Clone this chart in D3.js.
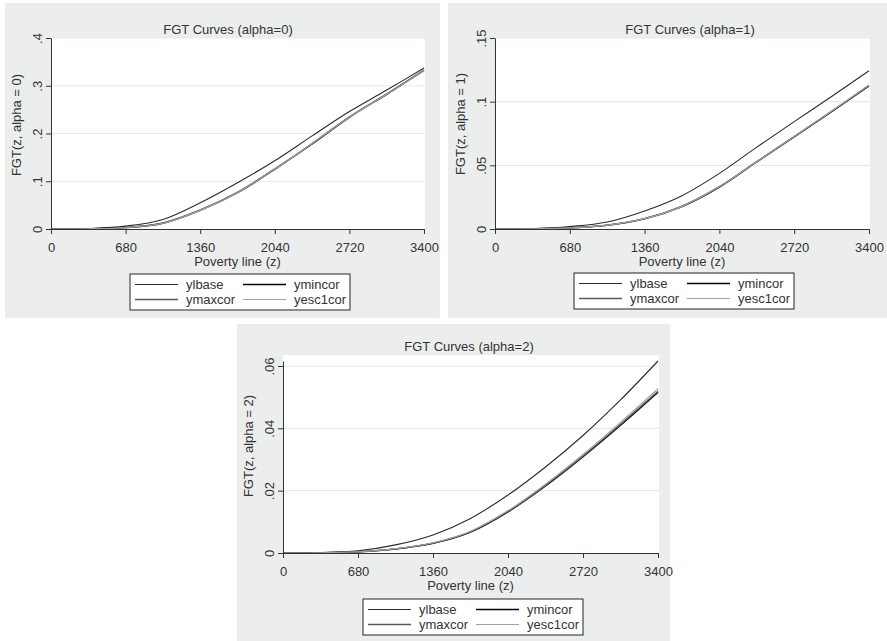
<!DOCTYPE html>
<html>
<head>
<meta charset="utf-8">
<script src="https://cdn.jsdelivr.net/npm/d3@7"></script>
<style>
  body { margin: 0; background: #fff; }
  svg { display: block; font-family: "Liberation Sans", Arial, sans-serif; }
</style>
</head>
<body>
<script>
const povertyLines = [0, 340, 680, 1020, 1360, 1700, 2040, 2380, 2720, 3060, 3400];
const xTicks = [0, 680, 1360, 2040, 2720, 3400];
const seriesNames = ["ylbase", "ymincor", "ymaxcor", "yesc1cor"];

// alpha = 0
const ylbase0   = [0, 0.001, 0.006, 0.020, 0.055, 0.097, 0.143, 0.195, 0.246, 0.291, 0.337];
const ymincor0  = [0, 0.0004, 0.003, 0.012, 0.039, 0.076, 0.125, 0.178, 0.234, 0.282, 0.332];
const ymaxcor0  = [0, 0.0005, 0.003, 0.013, 0.040, 0.077, 0.126, 0.179, 0.235, 0.283, 0.333];
const yesc1cor0 = [0, 0.0004, 0.003, 0.012, 0.039, 0.076, 0.125, 0.179, 0.234, 0.282, 0.332];
const yTicks0 = [0, 0.1, 0.2, 0.3, 0.4];

// alpha = 1
const ylbase1   = [0, 0.0002, 0.0019, 0.0055, 0.0142, 0.0262, 0.0437, 0.0643, 0.0843, 0.1040, 0.1243];
const ymincor1  = [0, 0.0001, 0.0009, 0.0030, 0.0080, 0.0177, 0.0330, 0.0527, 0.0723, 0.0922, 0.1124];
const ymaxcor1  = [0, 0.0001, 0.0009, 0.0031, 0.0082, 0.0179, 0.0333, 0.0530, 0.0726, 0.0925, 0.1128];
const yesc1cor1 = [0, 0.0001, 0.0009, 0.0031, 0.0081, 0.0178, 0.0333, 0.0529, 0.0726, 0.0926, 0.1130];
const yTicks1 = [0, 0.05, 0.1, 0.15];

// alpha = 2
const ylbase2   = [0, 0.0001, 0.0007, 0.0026, 0.0058, 0.0111, 0.0186, 0.0276, 0.0377, 0.0491, 0.0616];
const ymincor2  = [0, 0.00005, 0.0004, 0.0013, 0.0031, 0.0067, 0.0132, 0.0215, 0.0309, 0.0410, 0.0516];
const ymaxcor2  = [0, 0.00005, 0.0004, 0.0013, 0.0032, 0.0068, 0.0133, 0.0217, 0.0311, 0.0413, 0.0519];
const yesc1cor2 = [0, 0.00005, 0.0004, 0.0014, 0.0033, 0.0070, 0.0136, 0.0221, 0.0316, 0.0419, 0.0527];
const yTicks2 = [0, 0.02, 0.04, 0.06];

const titles = ["FGT Curves (alpha=0)", "FGT Curves (alpha=1)", "FGT Curves (alpha=2)"];
const yTitles = ["FGT(z, alpha = 0)", "FGT(z, alpha = 1)", "FGT(z, alpha = 2)"];
const xTitle = "Poverty line (z)";

const lineStyles = {
  ylbase:   { stroke: "#2a2a2a", width: 1.1 },
  ymincor:  { stroke: "#000000", width: 1.5 },
  ymaxcor:  { stroke: "#5a5a5a", width: 1.3 },
  yesc1cor: { stroke: "#a2a2a2", width: 1.2 }
};

const W = 887, H = 641;
const FONT = 13;
const TEXT = "#333";
const BG = "#eceeed";

const panels = [
  { series: [ylbase0, ymincor0, ymaxcor0, yesc1cor0], yTicks: yTicks0, yMax: 0.4,
    bg: [5, 3, 435, 315], x0: 51, x1: 424, yTop: 38, yBot: 229, whiteTop: 38, whiteRight: 425,
    titleX: 228, yTitleY: 125, legX: 130, legY: 274 },
  { series: [ylbase1, ymincor1, ymaxcor1, yesc1cor1], yTicks: yTicks1, yMax: 0.15,
    bg: [448, 3, 439, 315], x0: 495, x1: 869, yTop: 38, yBot: 229, whiteTop: 38, whiteRight: 870,
    titleX: 690, yTitleY: 124, legX: 574, legY: 273 },
  { series: [ylbase2, ymincor2, ymaxcor2, yesc1cor2], yTicks: yTicks2, yMax: 0.0616,
    bg: [237, 324, 433, 317], x0: 283, x1: 658, yTop: 361, yBot: 553, whiteTop: 355, whiteRight: 659,
    titleX: 469, yTitleY: 446, legX: 363, legY: 599 }
];

const fmtY = v => v === 0 ? "0" : String(v).replace(/^0/, "");

const svg = d3.select("body").append("svg")
  .attr("width", W)
  .attr("height", H);

panels.forEach((p, i) => {
  const g = svg.append("g");

  // grey graph region
  g.append("rect")
    .attr("x", p.bg[0]).attr("y", p.bg[1])
    .attr("width", p.bg[2]).attr("height", p.bg[3])
    .attr("fill", BG);

  // white plot region
  g.append("rect")
    .attr("x", p.x0).attr("y", p.whiteTop)
    .attr("width", p.whiteRight - p.x0).attr("height", p.yBot - p.whiteTop)
    .attr("fill", "#fff");

  const x = d3.scaleLinear().domain([0, 3400]).range([p.x0, p.x1]);
  const y = d3.scaleLinear().domain([0, p.yMax]).range([p.yBot, p.yTop]);

  // grid lines
  g.append("g").selectAll("line")
    .data(p.yTicks.filter(t => t > 0))
    .join("line")
    .attr("x1", p.x0).attr("x2", p.whiteRight)
    .attr("y1", d => y(d)).attr("y2", d => y(d))
    .attr("stroke", "#e9e9e9")
    .attr("stroke-width", 1.2);

  // curves
  const line = d3.line()
    .x((d, j) => x(povertyLines[j]))
    .y(d => y(Math.max(0, d)))
    .curve(d3.curveCatmullRom.alpha(0.5));

  p.series.forEach((vals, k) => {
    const st = lineStyles[seriesNames[k]];
    g.append("path")
      .datum(vals)
      .attr("fill", "none")
      .attr("stroke", st.stroke)
      .attr("stroke-width", st.width)
      .attr("d", line);
  });

  // x axis
  const xAxis = g.append("g")
    .attr("transform", `translate(0, ${p.yBot})`)
    .call(d3.axisBottom(x).tickValues(xTicks).tickFormat(d3.format("d"))
      .tickSize(5).tickSizeOuter(0).tickPadding(9));
  xAxis.select(".domain").attr("stroke", "#333");
  xAxis.selectAll(".tick line").attr("stroke", "#333");
  xAxis.selectAll("text")
    .attr("fill", TEXT)
    .style("font-size", FONT + "px")
    .style("font-family", "'Liberation Sans', Arial, sans-serif");

  // y axis with rotated labels
  const yAxis = g.append("g")
    .attr("transform", `translate(${p.x0}, 0)`)
    .call(d3.axisLeft(y).tickValues(p.yTicks).tickFormat(fmtY).tickSize(5).tickSizeOuter(0));
  yAxis.select(".domain").attr("stroke", "#333");
  yAxis.selectAll(".tick line").attr("stroke", "#333");
  yAxis.selectAll("text")
    .attr("x", 0)
    .attr("y", -9)
    .attr("dy", null)
    .attr("text-anchor", "middle")
    .attr("transform", "rotate(-90)")
    .attr("fill", TEXT)
    .style("font-size", FONT + "px")
    .style("font-family", "'Liberation Sans', Arial, sans-serif");

  // titles
  g.append("text")
    .attr("x", p.titleX).attr("y", p.whiteTop - 4)
    .attr("text-anchor", "middle")
    .attr("fill", TEXT)
    .style("font-size", FONT + "px")
    .text(titles[i]);

  g.append("text")
    .attr("x", (p.x0 + p.x1) / 2).attr("y", p.yBot + 37)
    .attr("text-anchor", "middle")
    .attr("fill", TEXT)
    .style("font-size", FONT + "px")
    .text(xTitle);

  g.append("text")
    .attr("transform", `translate(${p.x0 - 30}, ${p.yTitleY}) rotate(-90)`)
    .attr("text-anchor", "middle")
    .attr("fill", TEXT)
    .style("font-size", FONT + "px")
    .text(yTitles[i]);

  // legend
  const leg = g.append("g").attr("transform", `translate(${p.legX}, ${p.legY})`);
  leg.append("rect")
    .attr("width", 220).attr("height", 36)
    .attr("fill", "#fff")
    .attr("stroke", "#222");

  const items = leg.selectAll("g.item")
    .data(seriesNames)
    .join("g")
    .attr("class", "item")
    .attr("transform", (d, k) => `translate(${k % 2 === 0 ? 5 : 113}, ${k < 2 ? 10.5 : 25.5})`);
  items.append("line")
    .attr("x1", 0).attr("x2", 43)
    .attr("stroke", d => lineStyles[d].stroke)
    .attr("stroke-width", d => lineStyles[d].width);
  items.append("text")
    .attr("x", 51).attr("y", 4.5)
    .attr("fill", TEXT)
    .style("font-size", FONT + "px")
    .text(d => d);
});
</script>
</body>
</html>
